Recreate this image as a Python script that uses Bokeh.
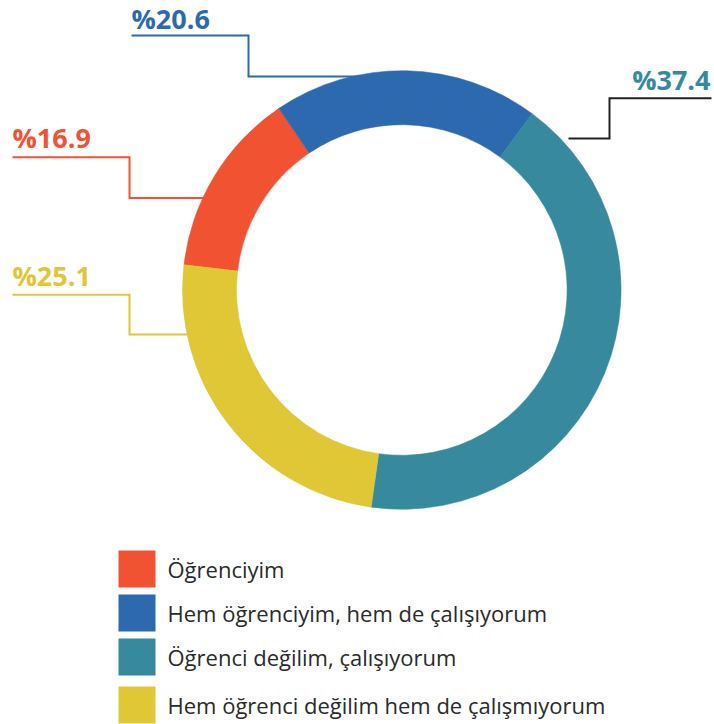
import numpy as np
from bokeh.plotting import figure
from bokeh.models import Range1d, ColumnDataSource
from bokeh.core.properties import value
from bokeh.embed import file_html
from bokeh.resources import INLINE

# ---- data -------------------------------------------------------------
categories = [
    "Öğrenciyim",
    "Hem öğrenciyim, hem de çalışıyorum",
    "Öğrenci değilim, çalışıyorum",
    "Hem öğrenci değilim hem de çalışmıyorum",
]
shares = [13.7, 19.6, 42.1, 24.6]          # slice sizes as drawn (%)
pct_labels = ["%16.9", "%20.6", "%37.4", "%25.1"]
colors = ["#F05232", "#2D69AF", "#378A9D", "#DFC736"]
label_colors = ["#F05232", "#2D69AF", "#378A9D", "#DFC736"]
line_colors = ["#F05232", "#2D69AF", "#222222", "#DFC736"]

# ---- layout -----------------------------------------------------------
W, H = 714, 724
TXT_SHIFT = 9  # compensate for renderer baseline offset


def Y(py):
    return H - py


p = figure(width=W, height=H, output_backend="svg", toolbar_location=None,
           x_range=Range1d(0, W), y_range=Range1d(0, H),
           min_border=0, x_axis_location=None, y_axis_location=None,
           outline_line_color=None, background_fill_color="white",
           border_fill_color="white")
p.grid.visible = False

cx, cy = 401.3, Y(289.5)
r_in, r_out = 165.3, 219.3
start_cw = 276.6  # clockwise from top, where first slice begins

# leader lines (drawn beneath the ring)
leader_pts = [
    [(12, 156.7), (129, 156.7), (129, 197.5), (212, 197.5)],
    [(131, 35), (248, 35), (248, 76), (362, 76)],
    [(711, 97.7), (609, 97.7), (609, 138), (568, 138)],
    [(12, 294.3), (129, 294.3), (129, 334), (196, 334)],
]
for pts, c in zip(leader_pts, line_colors):
    p.line([q[0] for q in pts], [Y(q[1]) for q in pts], line_color=c,
           line_width=2, line_join="miter")

# ring
cum = np.concatenate([[0], np.cumsum(shares)]) / 100.0 * 360.0
cw_s = start_cw + cum[:-1]
cw_e = start_cw + cum[1:]
src = ColumnDataSource(dict(
    start=np.deg2rad(90 - cw_s), end=np.deg2rad(90 - cw_e), color=colors))
p.annular_wedge(x=cx, y=cy, inner_radius=r_in, outer_radius=r_out,
                start_angle="start", end_angle="end", direction="clock",
                fill_color="color", line_color="color", line_width=0.5,
                source=src)

# percentage labels
lab_x = [12, 131, 710, 12]
lab_base = [146, 27, 88, 284]
lab_align = ["left", "left", "right", "left"]
for t, x, b, a, c in zip(pct_labels, lab_x, lab_base, lab_align, label_colors):
    p.text(x=[x], y=[Y(b - TXT_SHIFT)], text=[t], text_color=c, text_align=a,
           text_baseline="alphabetic", text_font=value("Open Sans"),
           text_font_style="bold", text_font_size="27px")

# legend
sq_top = [550, 594, 638, 686]
sq_size = 37
for cat, c, t in zip(categories, colors, sq_top):
    p.quad(left=[118], right=[118 + sq_size], top=[Y(t)],
           bottom=[Y(t + sq_size)], fill_color=c, line_color=None)
    p.text(x=[167], y=[Y(t + sq_size / 2 + 8.5 - TXT_SHIFT)], text=[cat],
           text_color="#2a2a2a", text_align="left",
           text_baseline="alphabetic", text_font=value("Open Sans"),
           text_font_size="22px")

open("out.html", "w").write(file_html(p, INLINE))
